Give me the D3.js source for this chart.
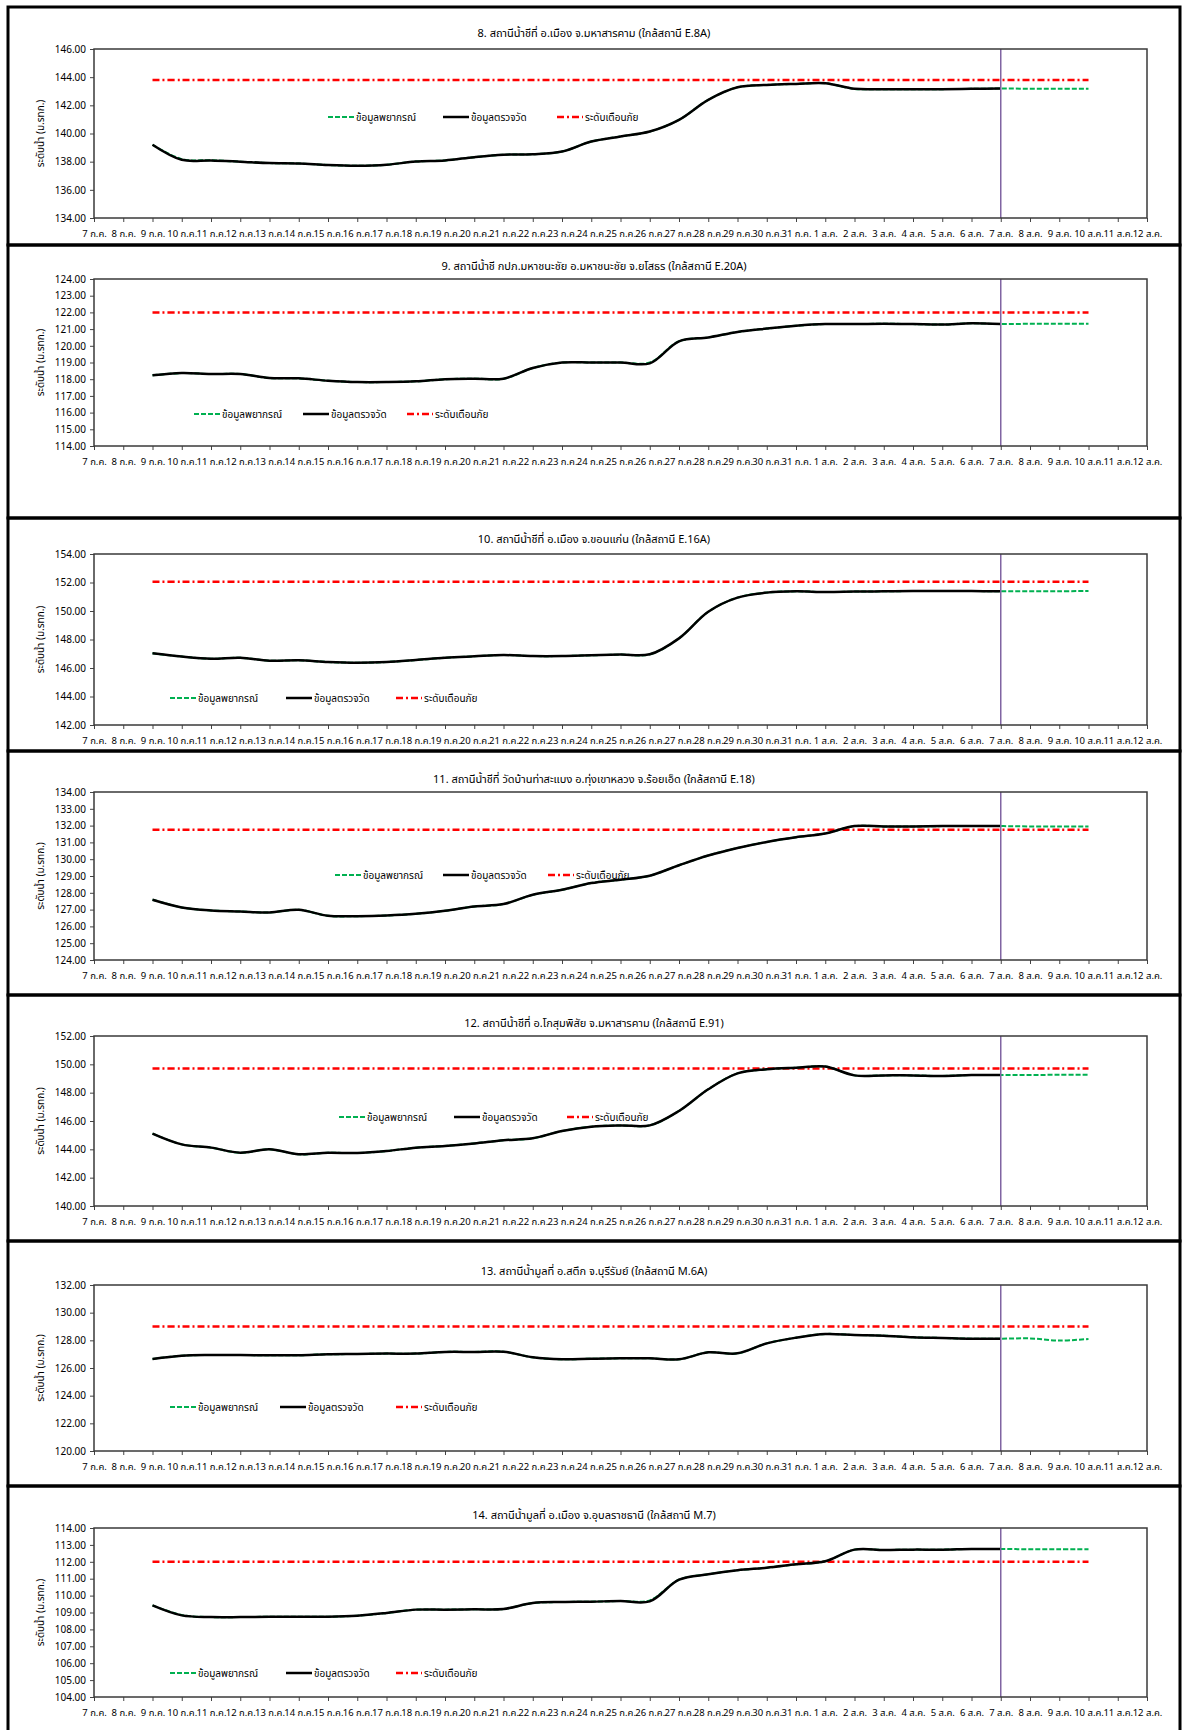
<!DOCTYPE html>
<html>
<head>
<meta charset="utf-8">
<script src="https://cdn.jsdelivr.net/npm/d3@7"></script>
<style>
body { margin: 0; background: #fff; }
text { font-family: Tahoma, "Noto Sans Thai", "Noto Sans", "DejaVu Sans", sans-serif; }
</style>
</head>
<body>
<div class="svg"></div>
<script>
// day labels on the x axis
const days = ["7 ก.ค.","8 ก.ค.","9 ก.ค.","10 ก.ค.","11 ก.ค.","12 ก.ค.","13 ก.ค.","14 ก.ค.","15 ก.ค.","16 ก.ค.",
  "17 ก.ค.","18 ก.ค.","19 ก.ค.","20 ก.ค.","21 ก.ค.","22 ก.ค.","23 ก.ค.","24 ก.ค.","25 ก.ค.","26 ก.ค.",
  "27 ก.ค.","28 ก.ค.","29 ก.ค.","30 ก.ค.","31 ก.ค.","1 ส.ค.","2 ส.ค.","3 ส.ค.","4 ส.ค.","5 ส.ค.",
  "6 ส.ค.","7 ส.ค.","8 ส.ค.","9 ส.ค.","10 ส.ค.","11 ส.ค.","12 ส.ค."];
const obsDays = days.slice(2, 32);   // 9 ก.ค. - 7 ส.ค.
const fcDays = days.slice(2, 35);    // 9 ก.ค. - 10 ส.ค.
const todayLabel = "7 ส.ค.";

const titles = [
  "8. สถานีน้ำชีที่ อ.เมือง จ.มหาสารคาม (ใกล้สถานี E.8A)",
  "9. สถานีน้ำชี กปภ.มหาชนะชัย อ.มหาชนะชัย จ.ยโสธร (ใกล้สถานี E.20A)",
  "10. สถานีน้ำชีที่ อ.เมือง จ.ขอนแก่น (ใกล้สถานี E.16A)",
  "11. สถานีน้ำชีที่ วัดบ้านท่าสะแบง อ.ทุ่งเขาหลวง จ.ร้อยเอ็ด (ใกล้สถานี E.18)",
  "12. สถานีน้ำชีที่ อ.โกสุมพิสัย จ.มหาสารคาม (ใกล้สถานี E.91)",
  "13. สถานีน้ำมูลที่ อ.สตึก จ.บุรีรัมย์ (ใกล้สถานี M.6A)",
  "14. สถานีน้ำมูลที่ อ.เมือง จ.อุบลราชธานี (ใกล้สถานี M.7)"
];
const legendNames = ["ข้อมูลพยากรณ์", "ข้อมูลตรวจวัด", "ระดับเตือนภัย"];
const yTitle = "ระดับน้ำ (ม.รทก.)";

const yMin = [134, 114, 142, 124, 140, 120, 104];
const yMax = [146, 124, 154, 134, 152, 132, 114];
const yStep = [2, 1, 2, 1, 2, 2, 1];
const warn = [143.8, 122.0, 152.05, 131.75, 149.7, 129.0, 112.0];

// observed 9 ก.ค. - 7 ส.ค.
const obs8 = [139.20,138.13,138.09,138.00,137.90,137.87,137.76,137.71,137.78,138.01,138.09,138.32,138.49,138.53,138.72,139.43,139.79,140.14,140.97,142.39,143.28,143.45,143.52,143.57,143.17,143.15,143.15,143.15,143.17,143.19];
const obs9 = [118.23,118.37,118.31,118.31,118.07,118.05,117.91,117.83,117.83,117.87,118.00,118.03,118.03,118.67,119.00,119.00,119.00,118.95,120.27,120.50,120.83,121.03,121.20,121.30,121.30,121.32,121.30,121.27,121.35,121.30];
const obs10 = [147.03,146.80,146.65,146.72,146.51,146.54,146.42,146.37,146.42,146.56,146.72,146.82,146.91,146.84,146.84,146.89,146.94,146.96,148.08,149.95,150.94,151.29,151.38,151.33,151.36,151.38,151.40,151.40,151.40,151.38];
const obs11 = [127.59,127.13,126.95,126.89,126.83,126.99,126.63,126.61,126.65,126.75,126.93,127.19,127.33,127.88,128.18,128.58,128.78,129.02,129.64,130.22,130.67,131.03,131.31,131.53,131.97,131.95,131.95,131.97,131.97,131.97];
const obs12 = [145.11,144.35,144.12,143.76,144.00,143.65,143.76,143.74,143.88,144.12,144.24,144.42,144.64,144.78,145.29,145.60,145.69,145.69,146.71,148.24,149.36,149.65,149.76,149.84,149.22,149.22,149.22,149.18,149.25,149.25];
const obs13 = [126.65,126.89,126.94,126.94,126.92,126.92,126.99,127.01,127.04,127.04,127.16,127.16,127.18,126.77,126.63,126.67,126.70,126.70,126.63,127.13,127.06,127.78,128.19,128.46,128.39,128.34,128.22,128.17,128.12,128.12];
const obs14 = [109.42,108.83,108.73,108.73,108.75,108.75,108.75,108.81,108.97,109.17,109.17,109.19,109.21,109.56,109.62,109.64,109.68,109.66,110.94,111.26,111.50,111.65,111.85,112.03,112.72,112.70,112.72,112.72,112.76,112.76];

// forecast 9 ก.ค. - 10 ส.ค.
const fc8 = [139.20,138.18,138.10,138.00,137.90,137.87,137.76,137.71,137.78,138.01,138.09,138.32,138.49,138.53,138.72,139.43,139.79,140.14,140.97,142.39,143.28,143.45,143.52,143.57,143.17,143.15,143.15,143.15,143.17,143.19,143.18,143.17,143.17];
const fc9 = [118.23,118.37,118.31,118.31,118.07,118.05,117.91,117.83,117.83,117.87,118.00,118.03,118.03,118.67,119.00,119.00,119.00,119.00,120.27,120.50,120.83,121.03,121.20,121.30,121.30,121.32,121.30,121.27,121.35,121.30,121.32,121.32,121.32];
const fc10 = [147.03,146.80,146.65,146.72,146.51,146.54,146.42,146.37,146.42,146.56,146.72,146.82,146.91,146.84,146.84,146.89,146.94,146.96,148.08,149.95,150.94,151.29,151.38,151.33,151.36,151.38,151.40,151.40,151.40,151.38,151.38,151.39,151.40];
const fc11 = [127.59,127.13,126.95,126.89,126.83,126.99,126.63,126.61,126.65,126.75,126.93,127.19,127.33,127.88,128.18,128.58,128.78,129.02,129.64,130.22,130.67,131.03,131.31,131.53,131.97,131.95,131.95,131.97,131.97,131.97,131.95,131.95,131.95];
const fc12 = [145.11,144.35,144.12,143.76,144.00,143.65,143.76,143.74,143.88,144.12,144.24,144.42,144.64,144.78,145.29,145.60,145.69,145.69,146.71,148.24,149.36,149.65,149.76,149.84,149.22,149.22,149.22,149.18,149.25,149.25,149.25,149.26,149.26];
const fc13 = [126.65,126.89,126.94,126.94,126.92,126.92,126.99,127.01,127.04,127.04,127.16,127.16,127.18,126.77,126.63,126.67,126.70,126.70,126.63,127.13,127.06,127.78,128.19,128.46,128.39,128.34,128.22,128.17,128.12,128.12,128.14,127.98,128.10];
const fc14 = [109.42,108.85,108.73,108.73,108.75,108.75,108.75,108.81,108.97,109.17,109.17,109.19,109.21,109.56,109.62,109.64,109.68,109.72,110.94,111.26,111.50,111.65,111.85,112.03,112.72,112.70,112.72,112.72,112.76,112.76,112.74,112.74,112.74];

const observed = [obs8, obs9, obs10, obs11, obs12, obs13, obs14];
const forecast = [fc8, fc9, fc10, fc11, fc12, fc13, fc14];

// panel layout (pixels)
const width = 1182, height = 1730;
const plotLeft = 94, plotRight = 1147;
const panels = [
  {top: 7,    bottom: 245,  pt: 49,   pb: 218,  ty: 33,   lx: [328, 443, 557], ly: 117},
  {top: 245,  bottom: 518,  pt: 279,  pb: 446,  ty: 266,  lx: [194, 303, 407], ly: 414},
  {top: 518,  bottom: 751,  pt: 554,  pb: 725,  ty: 539,  lx: [170, 286, 396], ly: 698},
  {top: 751,  bottom: 995,  pt: 792,  pb: 960,  ty: 779,  lx: [335, 443, 548], ly: 875},
  {top: 995,  bottom: 1241, pt: 1036, pb: 1206, ty: 1023, lx: [339, 454, 567], ly: 1117},
  {top: 1241, bottom: 1486, pt: 1285, pb: 1451, ty: 1271, lx: [170, 280, 396], ly: 1407},
  {top: 1486, bottom: 1732, pt: 1528, pb: 1697, ty: 1515, lx: [170, 286, 396], ly: 1673}
];

const green = "#00B050", red = "#FF0000", purple = "#8064A2";

let svg = d3.select('.svg').append('svg').attr('width', width).attr('height', height);

let x = d3.scalePoint().domain(days).range([plotLeft, plotRight]);

panels.forEach(function (p, i) {
  let g = svg.append('g');

  g.append('rect')
    .attr('x', 8).attr('y', p.top)
    .attr('width', 1172).attr('height', p.bottom - p.top)
    .attr('fill', 'none').attr('stroke', '#000').attr('stroke-width', 3);

  let y = d3.scaleLinear().domain([yMin[i], yMax[i]]).range([p.pb, p.pt]);

  g.append('text')
    .attr('x', 594).attr('y', p.ty).attr('dy', '0.35em')
    .attr('text-anchor', 'middle').attr('font-size', 11).attr('fill', '#000')
    .text(titles[i]);

  let ticks = d3.range(yMin[i], yMax[i] + yStep[i] / 2, yStep[i]);
  let axisY = d3.axisLeft(y).tickValues(ticks).tickFormat(d3.format('.2f')).tickSize(4).tickPadding(4);
  let ga = g.append('g').attr('transform', 'translate(' + plotLeft + ',0)').call(axisY);
  ga.select('.domain').remove();
  ga.selectAll('line').attr('stroke', '#444');
  ga.selectAll('text').attr('font-size', 10).attr('fill', '#000').attr('font-family', null);

  let axisX = d3.axisBottom(x).tickSize(4).tickPadding(8);
  let gx = g.append('g').attr('transform', 'translate(0,' + p.pb + ')').call(axisX);
  gx.select('.domain').remove();
  gx.selectAll('line').attr('stroke', '#444');
  gx.selectAll('text').attr('font-size', 9.5).attr('fill', '#000').attr('font-family', null);

  g.append('text')
    .attr('transform', 'translate(44,' + (p.pt + p.pb) / 2 + ') rotate(-90)')
    .attr('text-anchor', 'middle').attr('font-size', 10).attr('fill', '#000')
    .text(yTitle);

  let line = d3.line()
    .x(function (d) { return x(d[0]); })
    .y(function (d) { return y(d[1]); })
    .curve(d3.curveCatmullRom.alpha(0.5));

  // warning level
  g.append('path')
    .attr('d', line(fcDays.map(function (d) { return [d, warn[i]]; })))
    .attr('fill', 'none').attr('stroke', red).attr('stroke-width', 2.5)
    .attr('stroke-dasharray', '7,3,2,3');

  // forecast
  g.append('path')
    .attr('d', line(fcDays.map(function (d, k) { return [d, forecast[i][k]]; })))
    .attr('fill', 'none').attr('stroke', green).attr('stroke-width', 2)
    .attr('stroke-dasharray', '5,2');

  // observed
  g.append('path')
    .attr('d', line(obsDays.map(function (d, k) { return [d, observed[i][k]]; })))
    .attr('fill', 'none').attr('stroke', '#000').attr('stroke-width', 2.5);

  // today marker
  g.append('line')
    .attr('x1', x(todayLabel)).attr('x2', x(todayLabel))
    .attr('y1', p.pt).attr('y2', p.pb)
    .attr('stroke', purple).attr('stroke-width', 1.5);

  g.append('rect')
    .attr('x', plotLeft).attr('y', p.pt)
    .attr('width', plotRight - plotLeft).attr('height', p.pb - p.pt)
    .attr('fill', 'none').attr('stroke', '#3a3a3a').attr('stroke-width', 1.5);

  // legend
  let styles = [
    {c: green, w: 2, dash: '5,2'},
    {c: '#000', w: 2.5, dash: null},
    {c: red, w: 2.5, dash: '7,3,2,3'}
  ];
  styles.forEach(function (s, k) {
    g.append('line')
      .attr('x1', p.lx[k]).attr('x2', p.lx[k] + 26)
      .attr('y1', p.ly).attr('y2', p.ly)
      .attr('stroke', s.c).attr('stroke-width', s.w)
      .attr('stroke-dasharray', s.dash);
    g.append('text')
      .attr('x', p.lx[k] + 28).attr('y', p.ly).attr('dy', '0.35em')
      .attr('font-size', 10).attr('fill', '#000')
      .text(legendNames[k]);
  });
});
</script>
</body>
</html>
